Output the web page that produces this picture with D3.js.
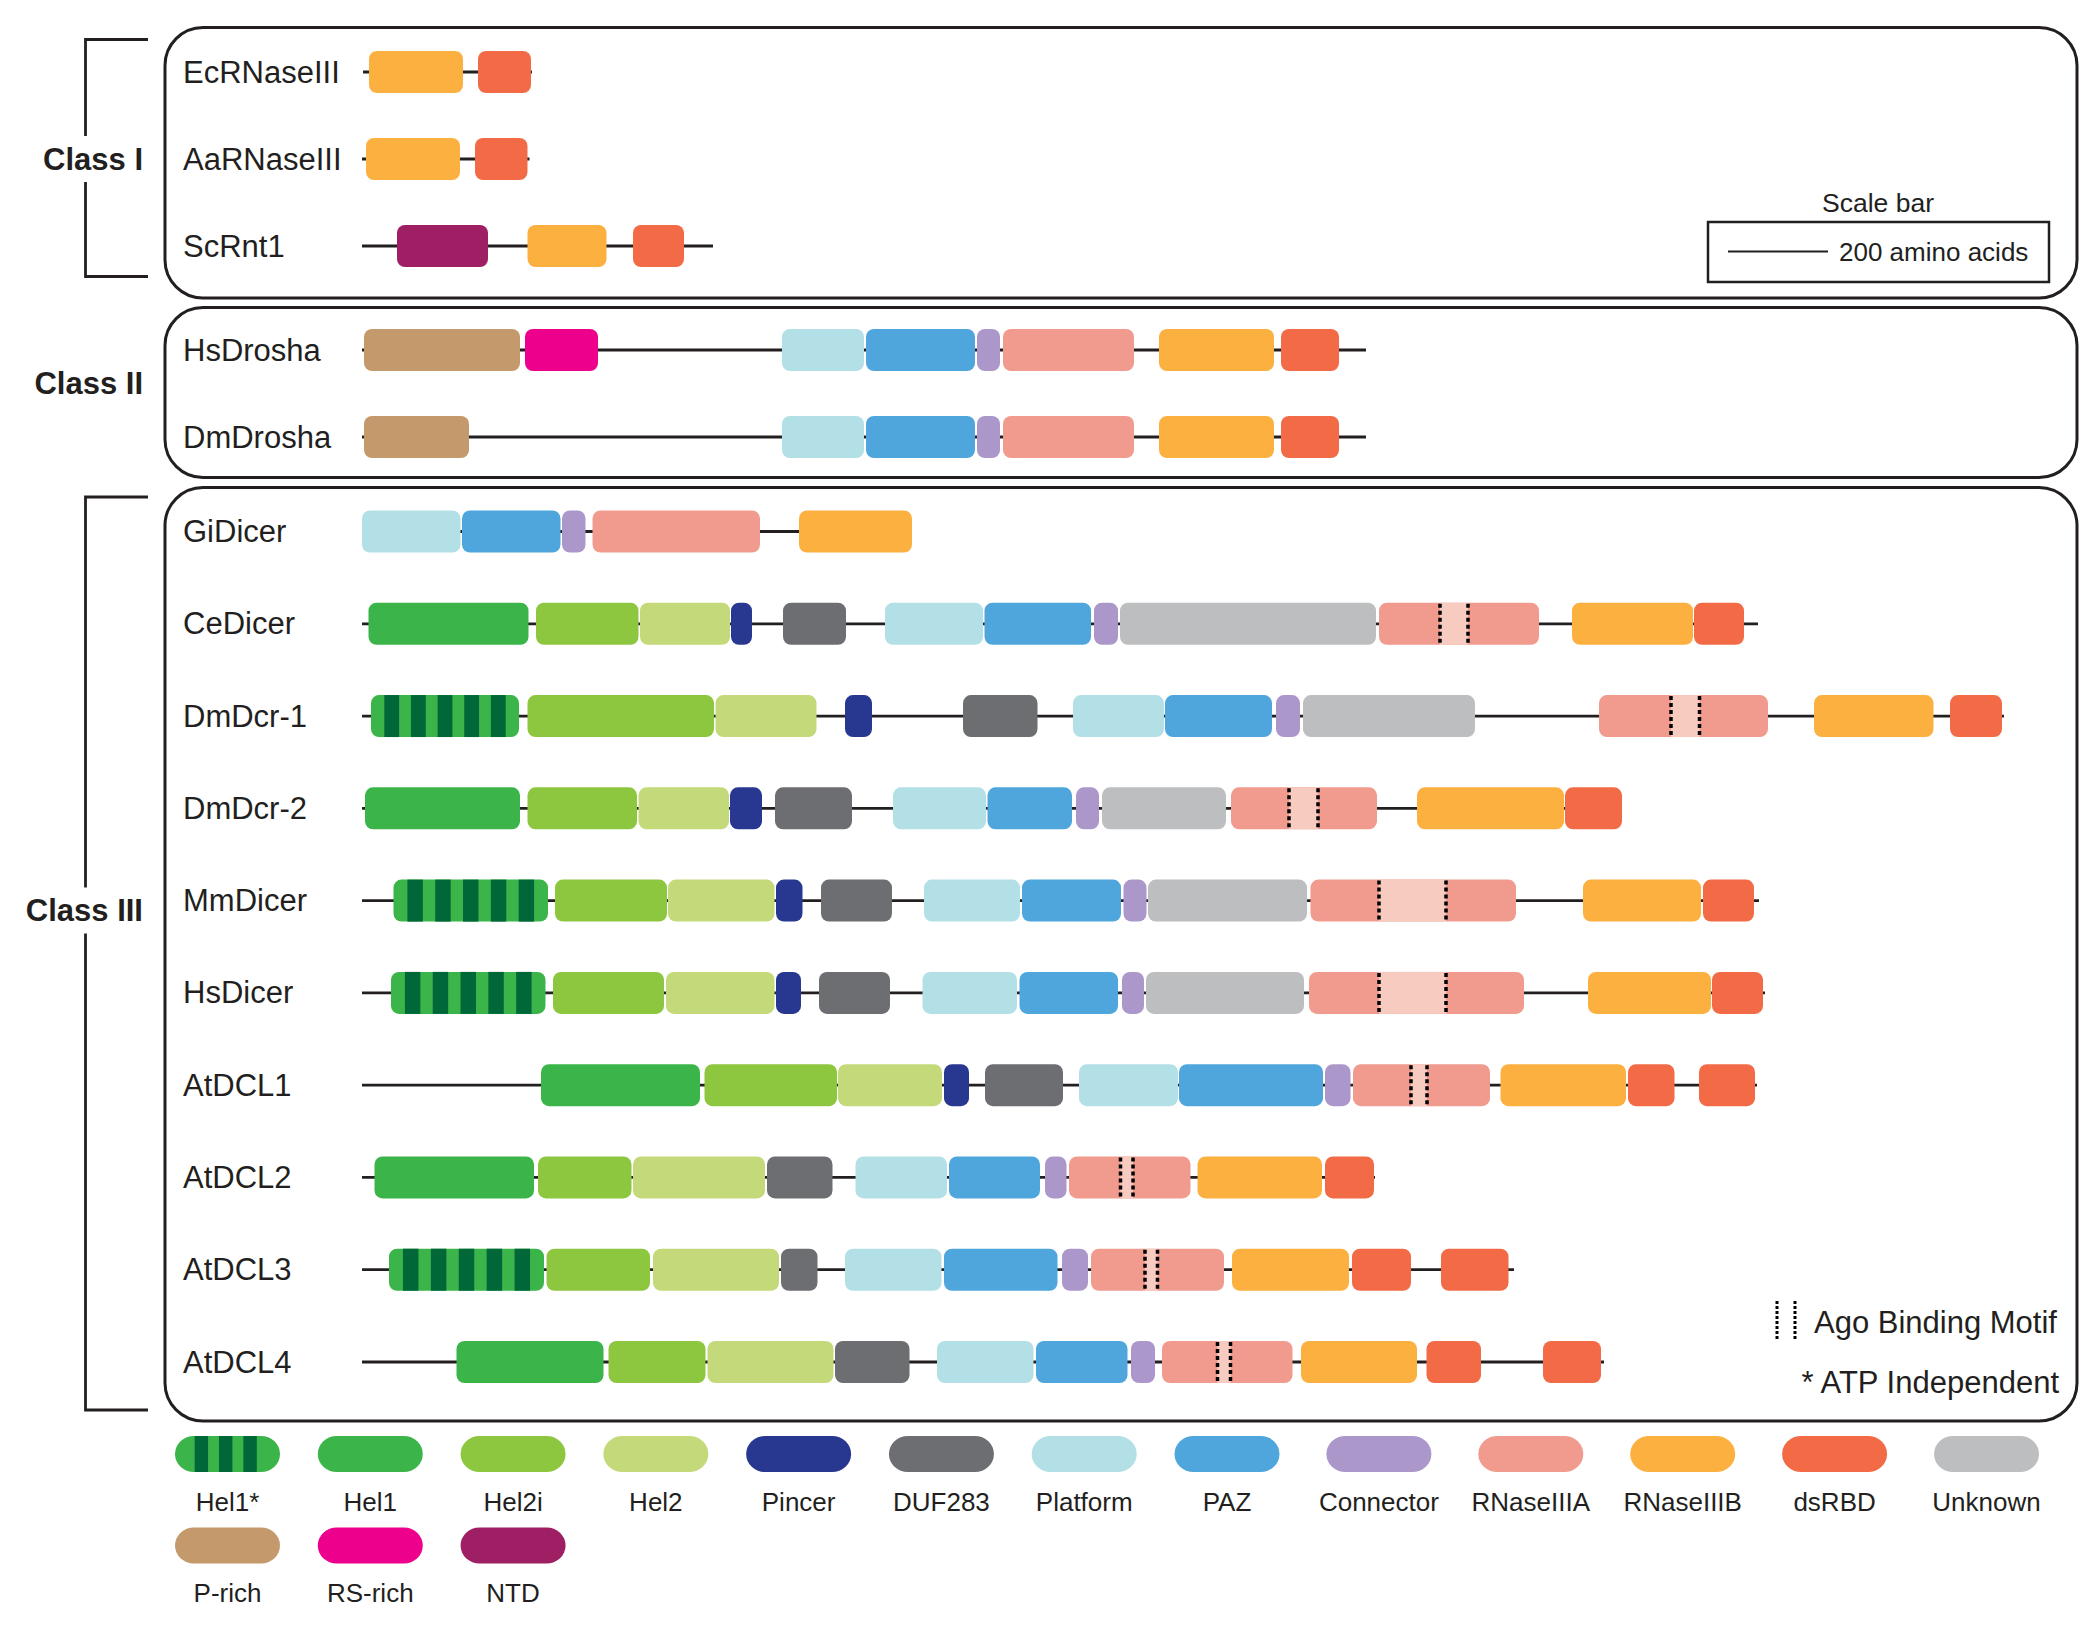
<!DOCTYPE html>
<html><head><meta charset="utf-8">
<script src="https://cdn.jsdelivr.net/npm/d3@7"></script>
<style>
body{margin:0;background:#fff}
svg{display:block}
text{font-family:"Liberation Sans",Arial,Helvetica,sans-serif;fill:#231f20}
</style>
</head><body>
<svg id="chart" width="2100" height="1625"></svg>
<script>
// ---------------- DATA ----------------
// categories
const classNames = ["Class I", "Class II", "Class III"];
const classI = ["EcRNaseIII", "AaRNaseIII", "ScRnt1"];
const classII = ["HsDrosha", "DmDrosha"];
const classIII = ["GiDicer", "CeDicer", "DmDcr-1", "DmDcr-2", "MmDicer", "HsDicer", "AtDCL1", "AtDCL2", "AtDCL3", "AtDCL4"];
const proteins = classI.concat(classII, classIII);

// domain types (legend order)
const domainTypes = ["Hel1*", "Hel1", "Hel2i", "Hel2", "Pincer", "DUF283", "Platform", "PAZ", "Connector",
  "RNaseIIIA", "RNaseIIIB", "dsRBD", "Unknown", "P-rich", "RS-rich", "NTD"];

// backbone extent per protein, in scale units (scale bar = 200 units)
const backboneStart = [2, 0, 0, 0, 0, 0, 0, 0, 0, 0, 0, 0, 0, 0, 0];
const backboneEnd = [340, 335, 702, 2008, 2008, 1100, 2792, 3284, 2520, 2794, 2806, 2790, 2026, 2304, 2484];

// domains per protein: [type, start, end]
const EcRNaseIII = [["RNaseIIIB", 14, 202], ["dsRBD", 232, 338]];
const AaRNaseIII = [["RNaseIIIB", 8, 196], ["dsRBD", 226, 331]];
const ScRnt1 = [["NTD", 70, 252], ["RNaseIIIB", 331, 489], ["dsRBD", 542, 644]];
const HsDrosha = [["P-rich", 4, 316], ["RS-rich", 326, 472], ["Platform", 840, 1004], ["PAZ", 1008, 1226],
  ["Connector", 1230, 1276], ["RNaseIIIA", 1282, 1544], ["RNaseIIIB", 1594, 1824], ["dsRBD", 1838, 1954]];
const DmDrosha = [["P-rich", 4, 214], ["Platform", 840, 1004], ["PAZ", 1008, 1226],
  ["Connector", 1230, 1276], ["RNaseIIIA", 1282, 1544], ["RNaseIIIB", 1594, 1824], ["dsRBD", 1838, 1954]];
const GiDicer = [["Platform", 0, 197], ["PAZ", 200, 397], ["Connector", 400, 447], ["RNaseIIIA", 461, 796], ["RNaseIIIB", 874, 1100]];
const CeDicer = [["Hel1", 13, 333], ["Hel2i", 348, 553], ["Hel2", 556, 736], ["Pincer", 738, 780], ["DUF283", 842, 968],
  ["Platform", 1046, 1242], ["PAZ", 1245, 1458], ["Connector", 1464, 1512], ["Unknown", 1516, 2028],
  ["RNaseIIIA", 2034, 2354], ["RNaseIIIB", 2420, 2662], ["dsRBD", 2664, 2764]];
const DmDcr1 = [["Hel1*", 18, 314], ["Hel2i", 331, 704], ["Hel2", 707, 909], ["Pincer", 966, 1020], ["DUF283", 1202, 1351],
  ["Platform", 1422, 1604], ["PAZ", 1606, 1820], ["Connector", 1828, 1876], ["Unknown", 1882, 2226],
  ["RNaseIIIA", 2474, 2812], ["RNaseIIIB", 2904, 3143], ["dsRBD", 3176, 3280]];
const DmDcr2 = [["Hel1", 6, 316], ["Hel2i", 331, 550], ["Hel2", 553, 734], ["Pincer", 736, 800], ["DUF283", 826, 980],
  ["Platform", 1062, 1248], ["PAZ", 1251, 1420], ["Connector", 1428, 1474], ["Unknown", 1480, 1728],
  ["RNaseIIIA", 1738, 2030], ["RNaseIIIB", 2110, 2404], ["dsRBD", 2406, 2520]];
const MmDicer = [["Hel1*", 63, 372], ["Hel2i", 386, 610], ["Hel2", 612, 825], ["Pincer", 828, 881], ["DUF283", 918, 1060],
  ["Platform", 1124, 1316], ["PAZ", 1320, 1518], ["Connector", 1523, 1569], ["Unknown", 1572, 1890],
  ["RNaseIIIA", 1897, 2308], ["RNaseIIIB", 2442, 2678], ["dsRBD", 2682, 2784]];
const HsDicer = [["Hel1*", 58, 367], ["Hel2i", 382, 604], ["Hel2", 608, 825], ["Pincer", 828, 878], ["DUF283", 914, 1056],
  ["Platform", 1121, 1310], ["PAZ", 1315, 1512], ["Connector", 1520, 1564], ["Unknown", 1568, 1884],
  ["RNaseIIIA", 1894, 2324], ["RNaseIIIB", 2452, 2698], ["dsRBD", 2700, 2802]];
const AtDCL1 = [["Hel1", 358, 676], ["Hel2i", 685, 950], ["Hel2", 952, 1160], ["Pincer", 1164, 1214], ["DUF283", 1246, 1402],
  ["Platform", 1434, 1632], ["PAZ", 1634, 1922], ["Connector", 1926, 1977], ["RNaseIIIA", 1982, 2256],
  ["RNaseIIIB", 2277, 2528], ["dsRBD", 2532, 2625], ["dsRBD", 2674, 2786]];
const AtDCL2 = [["Hel1", 25, 344], ["Hel2i", 352, 539], ["Hel2", 542, 806], ["DUF283", 810, 941],
  ["Platform", 987, 1170], ["PAZ", 1174, 1356], ["Connector", 1366, 1409], ["RNaseIIIA", 1414, 1657],
  ["RNaseIIIB", 1671, 1920], ["dsRBD", 1926, 2024]];
const AtDCL3 = [["Hel1*", 54, 364], ["Hel2i", 369, 576], ["Hel2", 582, 834], ["DUF283", 838, 911],
  ["Platform", 966, 1159], ["PAZ", 1164, 1391], ["Connector", 1400, 1452], ["RNaseIIIA", 1458, 1724],
  ["RNaseIIIB", 1740, 1974], ["dsRBD", 1980, 2098], ["dsRBD", 2158, 2293]];
const AtDCL4 = [["Hel1", 189, 483], ["Hel2i", 493, 687], ["Hel2", 691, 943], ["DUF283", 946, 1095],
  ["Platform", 1150, 1343], ["PAZ", 1348, 1531], ["Connector", 1538, 1586], ["RNaseIIIA", 1600, 1861],
  ["RNaseIIIB", 1878, 2110], ["dsRBD", 2129, 2238], ["dsRBD", 2362, 2478]];

// Ago binding motifs: [protein, start, end]
const agoMotifs = [["CeDicer", 2156, 2212], ["DmDcr-1", 2618, 2675], ["DmDcr-2", 1854, 1912],
  ["MmDicer", 2034, 2168], ["HsDicer", 2034, 2168], ["AtDCL1", 2098, 2130], ["AtDCL2", 1517, 1542],
  ["AtDCL3", 1566, 1591], ["AtDCL4", 1711, 1737]];

const scaleBarUnits = 200;
const notes = ["Ago Binding Motif", "* ATP Independent"];

// ---------------- STYLE ----------------
const domainColors = ["#3bb54a", "#3bb54a", "#8dc63f", "#c4da7a", "#283891", "#6d6e71", "#b3e0e6", "#4ea6dc",
  "#ab97c9", "#f19b8f", "#fbb040", "#f26b46", "#bcbec0", "#c49a6c", "#ec008c", "#9e1f63"];
const color = d3.scaleOrdinal().domain(domainTypes).range(domainColors);
const stripeColor = "#006838";
const motifLight = "#f7cbc0";
const ink = "#231f20";

const domainTable = {
  "EcRNaseIII": EcRNaseIII, "AaRNaseIII": AaRNaseIII, "ScRnt1": ScRnt1,
  "HsDrosha": HsDrosha, "DmDrosha": DmDrosha, "GiDicer": GiDicer, "CeDicer": CeDicer,
  "DmDcr-1": DmDcr1, "DmDcr-2": DmDcr2, "MmDicer": MmDicer, "HsDicer": HsDicer,
  "AtDCL1": AtDCL1, "AtDCL2": AtDCL2, "AtDCL3": AtDCL3, "AtDCL4": AtDCL4
};

// ---------------- SCALES ----------------
const x = d3.scaleLinear().domain([0, 200]).range([362, 462]);
const yI = d3.scalePoint().domain(classI).range([72, 246]);
const yII = d3.scalePoint().domain(classII).range([350, 437]);
const yIII = d3.scalePoint().domain(classIII).range([531.5, 1362]);
function yRow(p) {
  if (classI.includes(p)) return yI(p);
  if (classII.includes(p)) return yII(p);
  return yIII(p);
}
const barH = 42;

const svg = d3.select("#chart");
svg.append("rect").attr("width", 2100).attr("height", 1625).attr("fill", "#fff");

// ---------------- CLASS BOXES ----------------
const boxes = [[27.5, 298], [307.5, 477.5], [487.5, 1421]];
boxes.forEach(b => {
  svg.append("rect").attr("x", 165).attr("y", b[0]).attr("width", 2077 - 165).attr("height", b[1] - b[0])
    .attr("rx", 38).attr("ry", 38).attr("fill", "none").attr("stroke", ink).attr("stroke-width", 3);
});

// brackets + class labels
function bracket(top, bottom, labelY) {
  const g = svg.append("g").attr("stroke", ink).attr("stroke-width", 2.8).attr("fill", "none");
  g.append("path").attr("d", `M148,${top}H85.5V${labelY - 23}M85.5,${labelY + 23}V${bottom}H148`);
}
bracket(39.5, 276.5, yI("AaRNaseIII"));
bracket(497, 1410, 910.5);
const classLabelY = [yI("AaRNaseIII"), 383, 910.5];
classNames.forEach((c, i) => {
  svg.append("text").attr("x", 143).attr("y", classLabelY[i]).attr("text-anchor", "end")
    .attr("dominant-baseline", "central").attr("font-weight", "bold").attr("font-size", 31).text(c);
});

// ---------------- PROTEINS ----------------
proteins.forEach((p, i) => {
  const yc = yRow(p);
  const g = svg.append("g");
  g.append("text").attr("x", 183).attr("y", yc).attr("dominant-baseline", "central")
    .attr("font-size", 31).text(p);
  g.append("line").attr("x1", x(backboneStart[i])).attr("x2", x(backboneEnd[i]))
    .attr("y1", yc).attr("y2", yc).attr("stroke", ink).attr("stroke-width", 2.8);
  domainTable[p].forEach(d => {
    const x0 = x(d[1]), w = x(d[2]) - x(d[1]);
    g.append("rect").attr("x", x0).attr("y", yc - barH / 2).attr("width", w).attr("height", barH)
      .attr("rx", Math.min(8, w / 2)).attr("ry", 8).attr("fill", color(d[0]));
    if (d[0] === "Hel1*") {
      d3.range(5).forEach(k => {
        g.append("rect").attr("x", x0 + w * (0.09 + k * 0.18)).attr("y", yc - barH / 2)
          .attr("width", w * 0.1).attr("height", barH).attr("fill", stripeColor);
      });
    }
  });
});

// Ago motifs
agoMotifs.forEach(m => {
  const yc = yRow(m[0]);
  const x0 = x(m[1]), x1 = x(m[2]);
  svg.append("rect").attr("x", x0).attr("y", yc - barH / 2).attr("width", x1 - x0).attr("height", barH)
    .attr("fill", motifLight);
  [x0, x1].forEach(xx => {
    svg.append("line").attr("x1", xx).attr("x2", xx).attr("y1", yc - barH / 2 + 1).attr("y2", yc + barH / 2)
      .attr("stroke", "#000").attr("stroke-width", 3.5).attr("stroke-dasharray", "4,3");
  });
});

// ---------------- SCALE BAR ----------------
svg.append("text").attr("x", 1878).attr("y", 203).attr("text-anchor", "middle")
  .attr("dominant-baseline", "central").attr("font-size", 26.5).text("Scale bar");
svg.append("rect").attr("x", 1708).attr("y", 222).attr("width", 341).attr("height", 60)
  .attr("fill", "none").attr("stroke", ink).attr("stroke-width", 2.5);
svg.append("line").attr("x1", 1728).attr("x2", 1728 + x(scaleBarUnits) - x(0))
  .attr("y1", 251.5).attr("y2", 251.5).attr("stroke", ink).attr("stroke-width", 2);
svg.append("text").attr("x", 1839).attr("y", 251.5).attr("dominant-baseline", "central")
  .attr("font-size", 26).text(scaleBarUnits + " amino acids");

// ---------------- NOTES ----------------
[1777, 1795].forEach(xx => {
  svg.append("line").attr("x1", xx).attr("x2", xx).attr("y1", 1301).attr("y2", 1341)
    .attr("stroke", "#000").attr("stroke-width", 3).attr("stroke-dasharray", "3,2");
});
svg.append("text").attr("x", 1814).attr("y", 1322).attr("dominant-baseline", "central")
  .attr("font-size", 31).text(notes[0]);
svg.append("text").attr("x", 2059).attr("y", 1382).attr("text-anchor", "end").attr("dominant-baseline", "central")
  .attr("font-size", 31).text(notes[1]);

// ---------------- LEGEND ----------------
const legendRow1 = domainTypes.slice(0, 13);
const legendRow2 = domainTypes.slice(13);
const lx = d3.scaleLinear().domain([0, 7, 12]).range([227.5, 1227, 1986.5]);
const pillW = 105, pillH = 36;
function legendItem(t, i, yc, ly) {
  const cx = lx(i);
  svg.append("rect").attr("x", cx - pillW / 2).attr("y", yc - pillH / 2).attr("width", pillW).attr("height", pillH)
    .attr("rx", 19).attr("ry", 18).attr("fill", color(t));
  if (t === "Hel1*") {
    d3.range(3).forEach(k => {
      svg.append("rect").attr("x", cx - pillW / 2 + pillW * (0.187 + k * 0.232)).attr("y", yc - pillH / 2)
        .attr("width", pillW * 0.128).attr("height", pillH).attr("fill", stripeColor);
    });
  }
  svg.append("text").attr("x", cx).attr("y", ly).attr("text-anchor", "middle").attr("dominant-baseline", "central")
    .attr("font-size", 26).text(t);
}
legendRow1.forEach((t, i) => legendItem(t, i, 1454, 1502));
legendRow2.forEach((t, i) => legendItem(t, i, 1545.5, 1593));
</script>
</body></html>
